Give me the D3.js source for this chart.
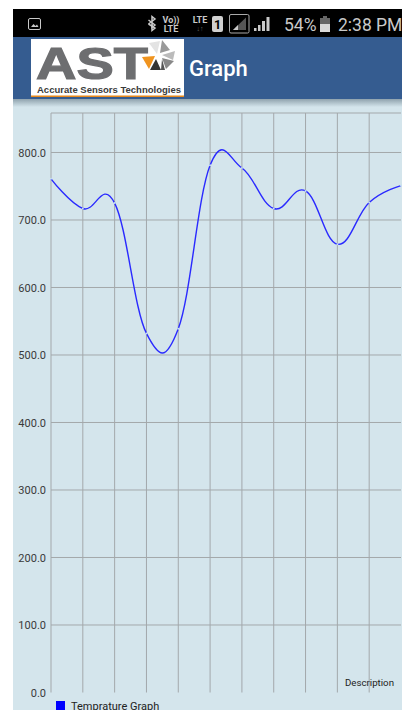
<!DOCTYPE html>
<html>
<head>
<meta charset="utf-8">
<script src="https://cdn.jsdelivr.net/npm/d3@7"></script>
<style>
    html, body { margin: 0; padding: 0; background: #fff; }
    svg { display: block; }
    text { font-family: Roboto, sans-serif; }
</style>
</head>
<body>
<svg id="screen" width="402" height="710"></svg>
<script>
// values, one per vertical grid line
const sampleIndex = [0, 1, 2, 3, 4, 5, 6, 7, 8, 9, 10, 11];
const temperature = [761, 717, 725, 532, 539, 781, 777, 717, 743, 664, 726, 751];
const yTicks = [0, 100, 200, 300, 400, 500, 600, 700, 800];
const yMax = 858.5;

const svg = d3.select('#screen');

function drawBackground() {
    const defs = svg.append('defs');
    const shadow = defs.append('linearGradient')
        .attr('id', 'header-shadow')
        .attr('x1', 0).attr('x2', 0).attr('y1', 0).attr('y2', 1);
    shadow.append('stop').attr('offset', 0).attr('stop-color', '#8fa2ad');
    shadow.append('stop').attr('offset', 1).attr('stop-color', '#d4e5ec');

    svg.append('rect').attr('x', 13).attr('y', 9).attr('width', 389).attr('height', 701).attr('fill', '#d4e5ec');
    svg.append('rect').attr('x', 13).attr('y', 9).attr('width', 389).attr('height', 28).attr('fill', '#000');
    svg.append('rect').attr('x', 13).attr('y', 37).attr('width', 389).attr('height', 62).attr('fill', '#355c90');
    svg.append('rect').attr('x', 13).attr('y', 99).attr('width', 389).attr('height', 8).attr('fill', 'url(#header-shadow)');
}

function drawStatusBar() {
    const bar = svg.append('g');
    const fg = '#c9c9c9';

    // gallery notification icon
    bar.append('rect').attr('x', 28.5).attr('y', 18.5).attr('width', 12).attr('height', 11).attr('rx', 1.5)
        .attr('fill', 'none').attr('stroke', fg);
    bar.append('path').attr('d', 'M31 27l2.5-3 2 2 1.5-1.5 1.5 2.5z').attr('fill', fg);

    // bluetooth
    bar.append('path').attr('d', 'M148.5 20l6.5 5-3 2.5v-11l3 2.5-6.5 5')
        .attr('fill', 'none').attr('stroke', fg).attr('stroke-width', 1.5);
    bar.append('path').attr('d', 'M152 24.5v6l3-2.5-6.5-4')
        .attr('fill', 'none').attr('stroke', fg).attr('stroke-width', 1.5);

    bar.append('text').attr('x', 171).attr('y', 23).attr('text-anchor', 'middle')
        .attr('font-size', 9).attr('font-weight', 700).attr('fill', fg).text('Vo))');
    bar.append('text').attr('x', 171).attr('y', 32).attr('text-anchor', 'middle')
        .attr('font-size', 9).attr('font-weight', 700).attr('fill', fg).text('LTE');
    bar.append('text').attr('x', 200).attr('y', 22.5).attr('text-anchor', 'middle')
        .attr('font-size', 9).attr('font-weight', 700).attr('fill', fg).text('LTE');
    bar.append('text').attr('x', 200).attr('y', 31).attr('text-anchor', 'middle')
        .attr('font-size', 7).attr('fill', '#666').text('↓↑');

    // sim badge
    bar.append('rect').attr('x', 212).attr('y', 16).attr('width', 11).attr('height', 16).attr('rx', 2).attr('fill', '#d0d0d0');
    bar.append('text').attr('x', 217.5).attr('y', 29).attr('text-anchor', 'middle')
        .attr('font-size', 12.5).attr('font-weight', 700).attr('fill', '#000').text('1');

    // signal boxes
    bar.append('rect').attr('x', 229.5).attr('y', 14.5).attr('width', 19.5).attr('height', 18.5).attr('rx', 1.5)
        .attr('fill', 'none').attr('stroke', '#aaa');
    bar.append('path').attr('d', 'M233 30L246 17.5V30z').attr('fill', '#555');
    bar.append('path').attr('d', 'M233 30L238 25V30z').attr('fill', fg);
    bar.append('path').attr('d', 'M254 31h2.5v-3h-2.5zM258 31h2.5v-6h-2.5zM262 31h3v-10h-3zM266.5 31h3v-14h-3z').attr('fill', fg);

    bar.append('text').attr('x', 284).attr('y', 31).attr('font-size', 17.5).attr('fill', fg).text('54%');

    // battery
    bar.append('rect').attr('x', 320).attr('y', 18).attr('width', 10).attr('height', 14).attr('fill', '#d8d8d8');
    bar.append('rect').attr('x', 320).attr('y', 18).attr('width', 10).attr('height', 6).attr('fill', '#666');
    bar.append('rect').attr('x', 323).attr('y', 16).attr('width', 4).attr('height', 2).attr('fill', '#666');

    bar.append('text').attr('x', 338).attr('y', 31).attr('font-size', 17.5).attr('fill', fg).text('2:38 PM');
}

function drawHeader() {
    const logo = svg.append('g');
    logo.append('rect').attr('x', 31).attr('y', 39).attr('width', 153).attr('height', 58).attr('fill', '#fff');
    logo.append('rect').attr('x', 31).attr('y', 95.5).attr('width', 153).attr('height', 1.5).attr('fill', '#e8891c');

    logo.append('text').attr('x', 36).attr('y', 79)
        .attr('textLength', 112).attr('lengthAdjust', 'spacingAndGlyphs')
        .style('font-family', '"Liberation Sans", sans-serif')
        .attr('font-size', 45).attr('font-weight', 700)
        .attr('fill', '#6d6e70').attr('stroke', '#6d6e70').attr('stroke-width', 1.2).text('AST');
    logo.append('text').attr('x', 37).attr('y', 92.5)
        .attr('textLength', 144).attr('lengthAdjust', 'spacingAndGlyphs')
        .style('font-family', '"Liberation Sans", sans-serif')
        .attr('font-size', 9.5).attr('font-weight', 700).attr('fill', '#3a3a3a').text('Accurate Sensors Technologies');

    // star mark
    logo.append('path').attr('d', 'M142 57L155 56L149 69z').attr('fill', '#f0941f');
    logo.append('path').attr('d', 'M150 70L156 59L161 70z').attr('fill', '#333');
    logo.append('path').attr('d', 'M149 43L160 41L157 54z').attr('fill', '#e3e3e3');
    logo.append('path').attr('d', 'M162 40L170 50L160 53z').attr('fill', '#999');
    logo.append('path').attr('d', 'M162 55L175 51L173 60z').attr('fill', '#bbb');
    logo.append('path').attr('d', 'M162 58L174 61L166 69z').attr('fill', '#888');
    logo.append('path').attr('d', 'M162 59L165 70L161 70z').attr('fill', '#555');

    svg.append('text').attr('x', 189).attr('y', 76)
        .attr('font-size', 22).attr('font-weight', 500).attr('fill', '#fff').text('Graph');
}

function drawChart() {
    const x = d3.scaleLinear().domain([0, 11]).range([51, 401]);
    const y = d3.scaleLinear().domain([0, yMax]).range([692.5, 113]);

    const grid = svg.append('g').attr('stroke', '#a3a8ab').attr('stroke-width', 1);
    grid.selectAll('.v-line').data(sampleIndex.slice(0, -1)).join('line')
        .attr('class', 'v-line')
        .attr('x1', d => x(d)).attr('x2', d => x(d))
        .attr('y1', y(yMax)).attr('y2', y(0));
    grid.selectAll('.h-line').data(yTicks.slice(1).concat(yMax)).join('line')
        .attr('class', 'h-line')
        .attr('x1', x(0)).attr('x2', x(11))
        .attr('y1', d => y(d)).attr('y2', d => y(d));

    const yAxis = d3.axisLeft(y).tickValues(yTicks).tickFormat(d3.format('.1f')).tickSize(0).tickPadding(5);
    const axisGroup = svg.append('g').attr('transform', `translate(${x(0)},0)`).call(yAxis);
    axisGroup.select('.domain').remove();
    axisGroup.selectAll('text')
        .style('font-family', 'Roboto, sans-serif')
        .attr('font-size', 11)
        .attr('fill', '#3a3a3a');

    const line = d3.line()
        .x((d, i) => x(sampleIndex[i]))
        .y(d => y(d))
        .curve(d3.curveCardinal.tension(-0.2));

    svg.append('path')
        .datum(temperature)
        .attr('d', line)
        .attr('fill', 'none')
        .attr('stroke', '#2a2aff')
        .attr('stroke-width', 1.4);

    // the small pale holes at each data point
    svg.selectAll('.hole').data(temperature).join('circle')
        .attr('class', 'hole')
        .attr('cx', (d, i) => x(sampleIndex[i]))
        .attr('cy', d => y(d))
        .attr('r', 1)
        .attr('fill', '#c6e0f2');

    svg.append('text').attr('x', 394).attr('y', 685.5).attr('text-anchor', 'end')
        .attr('font-size', 9.7).attr('fill', '#222').text('Description');

    svg.append('rect').attr('x', 56).attr('y', 701).attr('width', 9).attr('height', 9).attr('fill', '#0000ff');
    svg.append('text').attr('x', 71).attr('y', 709.5)
        .attr('font-size', 11).attr('fill', '#222').text('Temprature Graph');
}

drawBackground();
drawStatusBar();
drawHeader();
drawChart();
</script>
</body>
</html>
